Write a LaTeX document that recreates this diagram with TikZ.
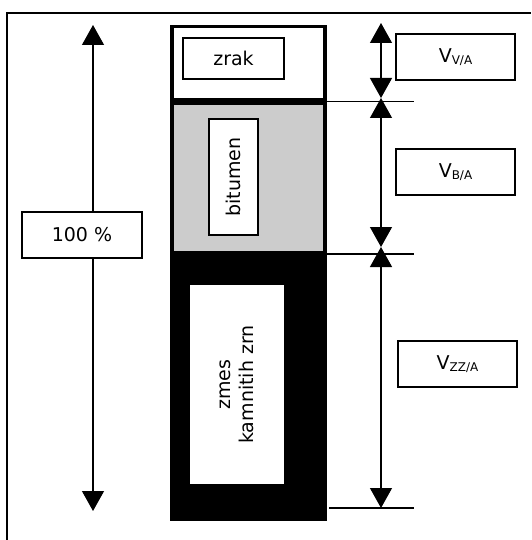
\documentclass[tikz,border=0pt]{standalone}
\usepackage{fontspec}
\setmainfont{DejaVu Sans}
\usetikzlibrary{arrows.meta,positioning,calc}

\newcommand{\volsub}[1]{V\raisebox{-1.5pt}{\fontsize{12}{12}\selectfont #1}}

\begin{document}
\begin{tikzpicture}[
  x=1pt,y=-1pt,
  font=\fontsize{19}{23}\selectfont,
  >={Triangle[width=22pt,length=20pt]},
  layer/.style={draw,line width=3.5pt,anchor=north west,inner sep=0pt,minimum width=153pt},
  inbox/.style={draw,line width=1.4pt,fill=white,inner sep=0pt,align=center},
  lbl/.style={draw,line width=1.4pt,fill=white,inner sep=0pt,minimum width=119pt,minimum height=46pt},
  dim/.style={line width=1.2pt,<->},
  ext/.style={line width=1.2pt},
]
\useasboundingbox (0,0) rectangle (531,540);
\draw[line width=1.2pt] (7,540) -- (7,13) -- (531,13);

% column of the mixture
\node[layer,fill=white,minimum height=73pt] (air) at (170,25) {};
\node[layer,fill=black!20,minimum height=149pt,below=0pt of air] (bit) {};
\node[layer,fill=black,minimum height=263pt,below=0pt of bit] (agg) {};

\node[inbox,minimum width=101pt,minimum height=41pt] (zrak) at (233.5,58.5) {zrak};
\node[inbox,rotate=90,minimum width=116pt,minimum height=49pt] (bitumen) at (233.5,177) {bitumen};
\node[inbox,rotate=90,minimum width=201pt,minimum height=96pt] (zmes) at (237,384.5) {zmes\\kamnitih zrn};

% total height
\coordinate (tt) at (93,25);
\coordinate (tb) at (93,511);
\draw[dim] (tt) -- (tb);
\node[lbl,minimum width=120pt] (total) at (82,235) {100 \%};

% partial heights
\coordinate (d0) at (381,23);
\coordinate (d1) at (381,98);
\coordinate (d2) at (381,247);
\coordinate (d3) at (381,508);
\coordinate (e3) at (414,508);
\draw[ext] (air.south east) -- ++(87,0);
\draw[ext] (bit.south east) -- ++(87,0);
\draw[ext] (329,508) -- (e3);
\draw[dim] (d0) -- (d1);
\draw[dim] (d1) -- (d2);
\draw[dim] (d2) -- (d3);

\node[lbl] (vva) at (455.5,57) {\volsub{V/A}};
\node[lbl] (vba) at (455.5,172) {\volsub{B/A}};
\node[lbl] (vzz) at (457.5,364) {\volsub{ZZ/A}};
\end{tikzpicture}
\end{document}
